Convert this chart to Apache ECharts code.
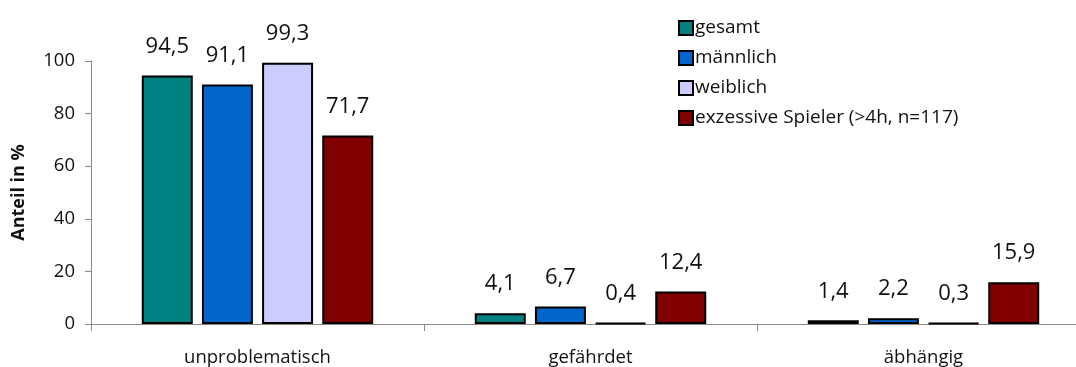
<!DOCTYPE html>
<html>
<head>
<meta charset="utf-8">
<script src="https://cdn.jsdelivr.net/npm/echarts@6/dist/echarts.min.js"></script>
<style>
  html, body { margin: 0; padding: 0; background: #fff; }
  #chart { width: 1076px; height: 367px; }
</style>
</head>
<body>
<div id="chart"></div>
<script>
// Risk groups on the x axis
const categories = ['unproblematisch', 'gefährdet', 'äbhängig'];

// Shares in percent per group
const gesamt = [94.5, 4.1, 1.4];
const maennlich = [91.1, 6.7, 2.2];
const weiblich = [99.3, 0.4, 0.3];
const exzessiv = [71.7, 12.4, 15.9];

const seriesNames = ['gesamt', 'männlich', 'weiblich', 'exzessive Spieler (>4h, n=117)'];
const yTicks = [0, 20, 40, 60, 80, 100];

const colors = ['#008080', '#0066CC', '#CCCCFF', '#800000'];
const FONT = '"Open Sans", "Liberation Sans", sans-serif';

const chart = echarts.init(document.getElementById('chart'), null, { renderer: 'canvas' });

const makeSeries = (name, data, i) => ({
  name: name,
  type: 'bar',
  data: data,
  barGap: '18%',
  barCategoryGap: '30.5%',
  itemStyle: { color: colors[i], borderColor: '#000', borderWidth: 2 },
  label: {
    show: true,
    position: 'top',
    distance: 18,
    fontFamily: FONT,
    fontSize: 22,
    color: '#111',
    formatter: p => String(p.value).replace('.', ',')
  }
});

chart.setOption({
  animation: false,
  textStyle: { fontFamily: FONT },
  legend: {
    orient: 'vertical',
    left: 673,
    top: 13,
    itemWidth: 14,
    itemHeight: 14,
    itemGap: 10,
    icon: 'rect',
    data: seriesNames,
    itemStyle: { borderColor: '#000', borderWidth: 2 },
    textStyle: { fontFamily: FONT, fontSize: 19, lineHeight: 20, color: '#111', padding: [0, 0, 0, -3] }
  },
  // plot area runs slightly past the right edge of the canvas
  grid: { left: 91, width: 999, top: 61, bottom: 43, outerBoundsMode: 'none', containLabel: false },
  xAxis: {
    type: 'category',
    data: categories,
    axisLine: { lineStyle: { color: '#888', width: 1 } },
    axisTick: { show: true, length: 7, lineStyle: { color: '#888' } },
    axisLabel: { fontFamily: FONT, fontSize: 18.5, color: '#111', margin: 24 }
  },
  yAxis: {
    type: 'value',
    min: yTicks[0],
    max: yTicks[yTicks.length - 1],
    interval: yTicks[1] - yTicks[0],
    name: 'Anteil in %',
    nameLocation: 'middle',
    nameGap: 63,
    nameRotate: 90,
    nameTextStyle: { fontFamily: FONT, fontSize: 18, fontWeight: 'bold', color: '#111' },
    axisLine: { show: true, lineStyle: { color: '#888', width: 1 } },
    axisTick: { show: true, length: 6, lineStyle: { color: '#888' } },
    splitLine: { show: false },
    axisLabel: { fontFamily: FONT, fontSize: 18.5, color: '#111', margin: 16 }
  },
  series: [
    makeSeries(seriesNames[0], gesamt, 0),
    makeSeries(seriesNames[1], maennlich, 1),
    makeSeries(seriesNames[2], weiblich, 2),
    makeSeries(seriesNames[3], exzessiv, 3)
  ]
});
</script>
</body>
</html>
